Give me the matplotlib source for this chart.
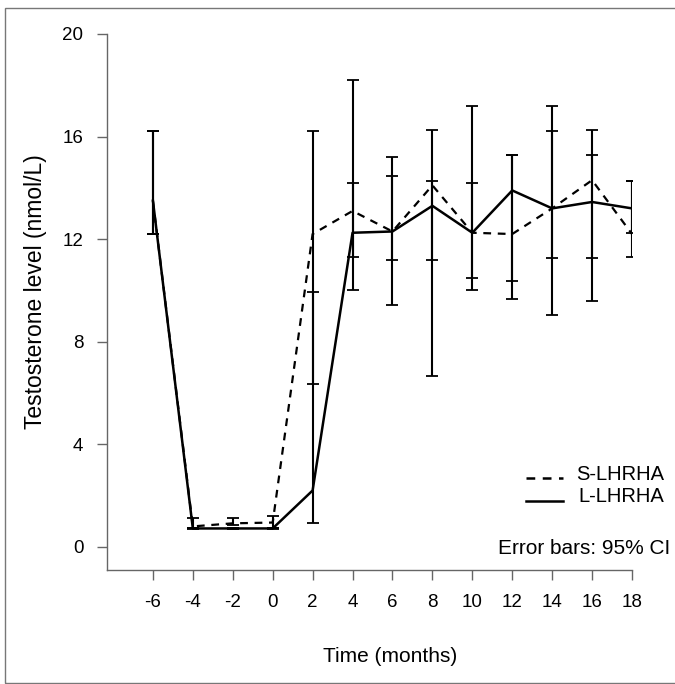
import matplotlib
matplotlib.use("Agg")
import matplotlib.pyplot as plt
from matplotlib.lines import Line2D
from matplotlib.patches import Rectangle

plt.rcParams['font.family'] = ['Liberation Sans', 'DejaVu Sans']

months = [-6, -4, -2, 0, 2, 4, 6, 8, 10, 12, 14, 16, 18]
s_mean = [13.5, 0.8, 0.92, 0.95, 12.2, 13.1, 12.3, 14.1, 12.25, 12.2, 13.2, 14.3, 12.2]
l_mean = [13.5, 0.72, 0.72, 0.72, 2.2, 12.25, 12.3, 13.3, 12.25, 13.9, 13.2, 13.45, 13.2]
s_low = [12.2, 0.73, 0.86, 0.73, 6.35, 11.3, 11.2, 11.2, 10.5, 10.35, 11.25, 11.25, 11.3]
s_high = [16.2, 1.12, 1.12, 1.2, 16.2, 14.2, 14.45, 16.25, 14.2, 15.3, 16.2, 16.25, 14.25]
l_low = [12.2, 0.7, 0.7, 0.7, 0.93, 10.0, 9.45, 6.65, 10.0, 9.65, 9.05, 9.6, 12.25]
l_high = [16.2, 0.74, 0.74, 0.74, 9.95, 18.2, 15.2, 14.25, 17.2, 15.3, 17.2, 15.3, 14.25]
yticks = [0, 4, 8, 12, 16, 20]
labels = ["S-LHRHA", "L-LHRHA"]

W, H = 675, 684
fig = plt.figure(figsize=(W / 100, H / 100), dpi=100)
ax = fig.add_axes([107 / W, 1 - 570 / H, (632 - 107) / W, (570 - 34) / H])

FS_TICK = 13.5
FS_LAB = 15
FS_YLAB = 16.5
FS_LEG = 14.5
dash = (0, (3.5, 3))
err_kw = dict(fmt='none', ecolor='black', elinewidth=1.5, capsize=4.3, capthick=1.3, zorder=2)
ax.errorbar(months, s_mean, yerr=[[m - lo for m, lo in zip(s_mean, s_low)],
                                  [hi - m for m, hi in zip(s_mean, s_high)]], **err_kw)
ax.errorbar(months, l_mean, yerr=[[m - lo for m, lo in zip(l_mean, l_low)],
                                  [hi - m for m, hi in zip(l_mean, l_high)]], **err_kw)
ax.plot(months, s_mean, color='black', lw=1.6, ls=dash, zorder=3)
ax.plot(months, l_mean, color='black', lw=1.8, ls='-', zorder=3)

ax.set_xlim(-8.3, 18)
ax.set_ylim(-0.9, 20)
ax.set_xticks(months)
ax.set_xticklabels([str(m) for m in months])
ax.set_yticks(yticks)
ax.set_yticklabels([str(v) for v in yticks])
for s in ['top', 'right']:
    ax.spines[s].set_visible(False)
for s in ['left', 'bottom']:
    ax.spines[s].set_color('#666666')
    ax.spines[s].set_linewidth(1.0)
ax.tick_params(axis='both', direction='out', length=7.5, width=1.0, color='#666666',
               labelsize=FS_TICK, labelcolor='black')
ax.tick_params(axis='x', pad=9.5)
ax.tick_params(axis='y', pad=9.5)

fig.text(390 / W, 1 - 656 / H, "Time (months)", ha='center', va='center', fontsize=FS_LAB)
fig.text(36 / W, 1 - 292 / H, "Testosterone level (nmol/L)", ha='center', va='center',
         rotation=90, fontsize=FS_YLAB)

# legend
fig.add_artist(Line2D([526 / W, 563 / W], [1 - 478 / H, 1 - 478 / H], color='black',
                      lw=1.8, ls=dash))
fig.add_artist(Line2D([526 / W, 563 / W], [1 - 501 / H, 1 - 501 / H], color='black',
                      lw=1.8, ls='-'))
fig.text(664 / W, 1 - 474 / H, labels[0], ha='right', va='center', fontsize=FS_LEG)
fig.text(664 / W, 1 - 497 / H, labels[1], ha='right', va='center', fontsize=FS_LEG)
fig.text(670 / W, 1 - 549 / H, "Error bars: 95% CI", ha='right', va='center', fontsize=FS_LAB)

fig.add_artist(Rectangle((5 / W, 1.5 / H), 1.2, 1 - 9.5 / H, transform=fig.transFigure,
                         fill=False, edgecolor='#777777', lw=1.0))

fig.savefig("out.png", dpi=100)
